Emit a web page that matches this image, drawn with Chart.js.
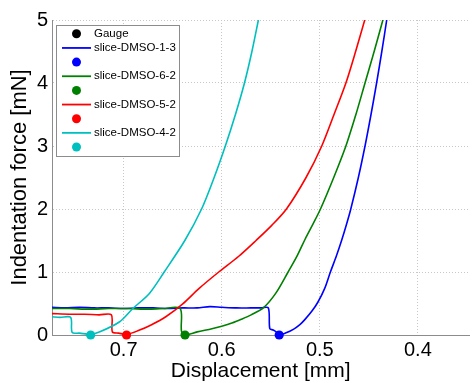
<!DOCTYPE html>
<html>
<head>
<meta charset="utf-8">
<script src="https://cdn.jsdelivr.net/npm/chart.js@4.4.1/dist/chart.umd.min.js"></script>
<style>
  html, body { margin: 0; padding: 0; background: #fff; }
  canvas { display: block; }
</style>
</head>
<body>
<canvas id="chart" width="474" height="383"></canvas>
<script>
// axis settings
const xMin = 0.3475;
const xMax = 0.773;
const xTicks = [0.4, 0.5, 0.6, 0.7];
const yTicks = [0, 1, 2, 3, 4, 5];

// slice-DMSO-1-3 (blue)
const disp13 = [0.773, 0.760, 0.745, 0.730, 0.715, 0.700, 0.685, 0.670, 0.655, 0.640, 0.625, 0.612, 0.600, 0.585, 0.570, 0.560, 0.5525, 0.551, 0.5475, 0.5445, 0.5414, 0.535, 0.527, 0.520, 0.5155, 0.508, 0.502, 0.495, 0.4892, 0.4832, 0.4778, 0.4729, 0.4684, 0.4607, 0.4539, 0.4478, 0.4421, 0.4368, 0.4318];
const force13 = [0.44, 0.43, 0.44, 0.43, 0.43, 0.42, 0.43, 0.43, 0.42, 0.43, 0.43, 0.45, 0.44, 0.43, 0.43, 0.43, 0.43, 0.10, 0.08, 0.05, 0.00, 0.03, 0.09, 0.17, 0.24, 0.38, 0.52, 0.74, 1.00, 1.25, 1.50, 1.75, 2.00, 2.50, 3.00, 3.50, 4.00, 4.50, 5.00];

// slice-DMSO-6-2 (green)
const disp62 = [0.773, 0.755, 0.735, 0.715, 0.695, 0.675, 0.660, 0.6424, 0.641, 0.6374, 0.625, 0.610, 0.600, 0.5896, 0.580, 0.570, 0.5576, 0.545, 0.5323, 0.523, 0.515, 0.507, 0.4993, 0.4858, 0.4734, 0.4632, 0.4539, 0.4446, 0.4357];
const force62 = [0.42, 0.42, 0.41, 0.42, 0.42, 0.41, 0.42, 0.42, 0.06, 0.00, 0.05, 0.10, 0.14, 0.19, 0.25, 0.32, 0.43, 0.66, 1.00, 1.26, 1.52, 1.76, 2.00, 2.50, 3.00, 3.50, 4.00, 4.50, 5.00];

// slice-DMSO-5-2 (red)
const disp52 = [0.773, 0.755, 0.740, 0.725, 0.7125, 0.7115, 0.705, 0.697, 0.685, 0.672, 0.657, 0.640, 0.623, 0.603, 0.5826, 0.565, 0.549, 0.534, 0.514, 0.498, 0.4855, 0.4734, 0.4635, 0.4542];
const force52 = [0.34, 0.33, 0.33, 0.32, 0.32, 0.05, 0.03, 0.01, 0.07, 0.16, 0.29, 0.49, 0.74, 1.00, 1.25, 1.50, 1.74, 2.00, 2.50, 3.00, 3.50, 4.00, 4.50, 5.00];

// slice-DMSO-4-2 (cyan)
const disp42 = [0.773, 0.765, 0.754, 0.7525, 0.745, 0.7336, 0.7242, 0.704, 0.6906, 0.6737, 0.6586, 0.6376, 0.6205, 0.6077, 0.5963, 0.586, 0.5768, 0.5692, 0.5626];
const force42 = [0.29, 0.28, 0.28, 0.04, 0.03, 0.01, 0.05, 0.21, 0.42, 0.66, 1.00, 1.50, 2.00, 2.50, 3.00, 3.50, 4.00, 4.50, 5.00];

// contact points (dots)
const contactDisp = [0.5414, 0.6374, 0.697, 0.7336];
const contactForce = [0, 0, 0, 0];

const names = ['slice-DMSO-1-3', 'slice-DMSO-6-2', 'slice-DMSO-5-2', 'slice-DMSO-4-2'];
const colors = ['#0000ff', '#008000', '#ff0000', '#00bfbf'];
const series = [[disp13, force13], [disp62, force62], [disp52, force52], [disp42, force42]];

const fontFamily = "'Liberation Sans', Arial, sans-serif";

const toPoints = (xs, ys) => xs.map((x, i) => ({ x: x, y: ys[i] }));

const datasets = [{
    label: 'Gauge',
    data: [],
    legendType: 'dot',
    backgroundColor: '#000',
    borderColor: '#000',
    pointRadius: 4.5
}];

series.forEach((s, i) => {
    datasets.push({
        label: names[i],
        data: toPoints(s[0], s[1]),
        legendType: 'line',
        showLine: true,
        tension: 0.3,
        borderColor: colors[i],
        backgroundColor: colors[i],
        borderWidth: 1.6,
        pointRadius: 0
    });
    datasets.push({
        label: '',
        data: [{ x: contactDisp[i], y: contactForce[i] }],
        legendType: 'dot',
        backgroundColor: colors[i],
        borderColor: colors[i],
        borderWidth: 0,
        pointRadius: 4.6,
        clip: false
    });
});

// later datasets drawn on top, like the original
datasets.forEach((d, i) => { d.order = datasets.length - i; });

const legendBox = {
    id: 'legendBox',
    afterDraw(chart) {
        const ctx = chart.ctx;
        ctx.save();
        ctx.fillStyle = '#fff';
        ctx.fillRect(57, 25, 123, 131);
        ctx.strokeStyle = '#8c8c8c';
        ctx.lineWidth = 1;
        ctx.strokeRect(56.5, 25.5, 123, 131);
        chart.data.datasets.forEach((d, i) => {
            const y = 33.8 + i * 14.15;
            if (d.legendType === 'line') {
                ctx.strokeStyle = d.borderColor;
                ctx.lineWidth = 1.8;
                ctx.beginPath();
                ctx.moveTo(62, y);
                ctx.lineTo(91, y);
                ctx.stroke();
            } else {
                ctx.fillStyle = d.backgroundColor;
                ctx.beginPath();
                ctx.arc(76.5, y, 4.5, 0, Math.PI * 2);
                ctx.fill();
            }
            if (d.label) {
                ctx.fillStyle = '#000';
                ctx.font = '11.5px ' + fontFamily;
                ctx.textBaseline = 'middle';
                ctx.textAlign = 'left';
                ctx.fillText(d.label, 94, y);
            }
        });
        ctx.restore();
    }
};

const ctx = document.getElementById('chart').getContext('2d');
new Chart(ctx, {
    type: 'scatter',
    data: { datasets: datasets },
    options: {
        responsive: false,
        animation: false,
        layout: { padding: { top: 20, right: 1, left: 0, bottom: 0 } },
        scales: {
            x: {
                type: 'linear',
                reverse: true,
                min: xMin,
                max: xMax,
                afterBuildTicks: scale => { scale.ticks = xTicks.map(v => ({ value: v })); },
                afterFit: scale => { scale.height = 48; },
                grid: { color: '#c8c8c8', lineWidth: 1, drawTicks: false },
                border: { color: '#8c8c8c', width: 1, dash: [1, 2] },
                ticks: {
                    color: '#000',
                    padding: 3,
                    font: { size: 20, family: fontFamily },
                    callback: v => v.toFixed(1)
                },
                title: {
                    display: true,
                    text: 'Displacement [mm]',
                    color: '#000',
                    font: { size: 21, family: fontFamily, lineHeight: 1 },
                    padding: { top: 0, bottom: 1 }
                }
            },
            y: {
                type: 'linear',
                min: 0,
                max: 5,
                afterBuildTicks: scale => { scale.ticks = yTicks.map(v => ({ value: v })); },
                afterFit: scale => { scale.width = 52; },
                grid: { color: '#c8c8c8', lineWidth: 1, drawTicks: false },
                border: { color: '#8c8c8c', width: 1, dash: [1, 2] },
                ticks: {
                    color: '#000',
                    padding: 4,
                    font: { size: 20, family: fontFamily },
                    callback: v => String(v)
                },
                title: {
                    display: true,
                    text: 'Indentation force [mN]',
                    color: '#000',
                    font: { size: 22, family: fontFamily, lineHeight: 1 },
                    padding: { top: 9, bottom: 0 }
                }
            }
        },
        plugins: {
            legend: { display: false },
            tooltip: { enabled: false }
        }
    },
    plugins: [legendBox]
});
</script>
</body>
</html>
